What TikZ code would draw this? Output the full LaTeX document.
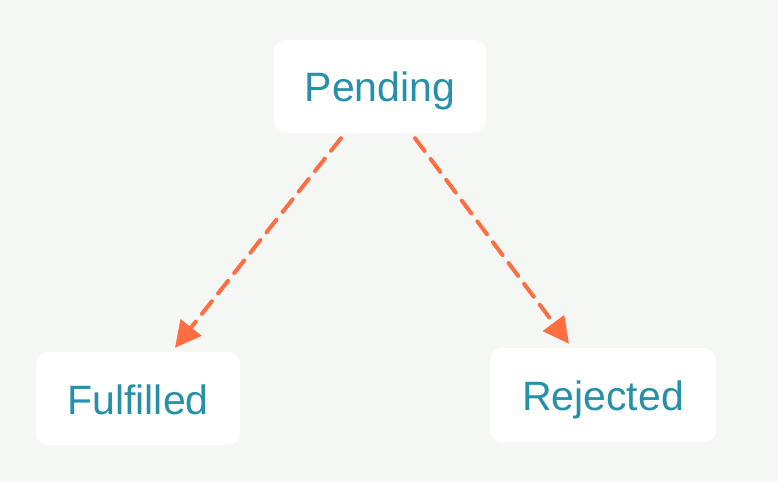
\documentclass[tikz,border=0pt]{standalone}
\usepackage{fontspec}
\setmainfont{Liberation Sans}
\usetikzlibrary{arrows.meta}
\definecolor{bg}{HTML}{F5F7F4}
\definecolor{txt}{HTML}{2790A9}
\definecolor{arr}{HTML}{FF6E40}
\tikzset{
  state/.style={fill=white, rounded corners=12pt, inner sep=0pt, text=txt,
    font=\fontsize{41}{48}\selectfont, minimum height=93pt,
    text height=31pt, text depth=0pt},
  conn/.style={draw=arr, line width=4pt, line cap=round,
    dash pattern=on 16pt off 10pt,
    -{Triangle[length=26pt,width=26pt]}}
}
\begin{document}
\begin{tikzpicture}[x=1pt,y=1pt]
\fill[bg] (0,0) rectangle (778,482);
\useasboundingbox (0,0) rectangle (778,482);
\node[state, minimum width=212pt] (P) at (380,395.5) {Pending};
\node[state, minimum width=204pt] (F) at (138,83.5) {Fulfilled};
\node[state, minimum width=226pt, minimum height=94pt] (R) at (603,87) {Rejected};
\draw[conn] ([xshift=-39pt,yshift=-5pt]P.south) -- ([xshift=37pt,yshift=4pt]F.north);
\draw[conn] ([xshift=35pt,yshift=-5pt]P.south) -- ([xshift=-34pt,yshift=4pt]R.north);
\end{tikzpicture}
\end{document}
